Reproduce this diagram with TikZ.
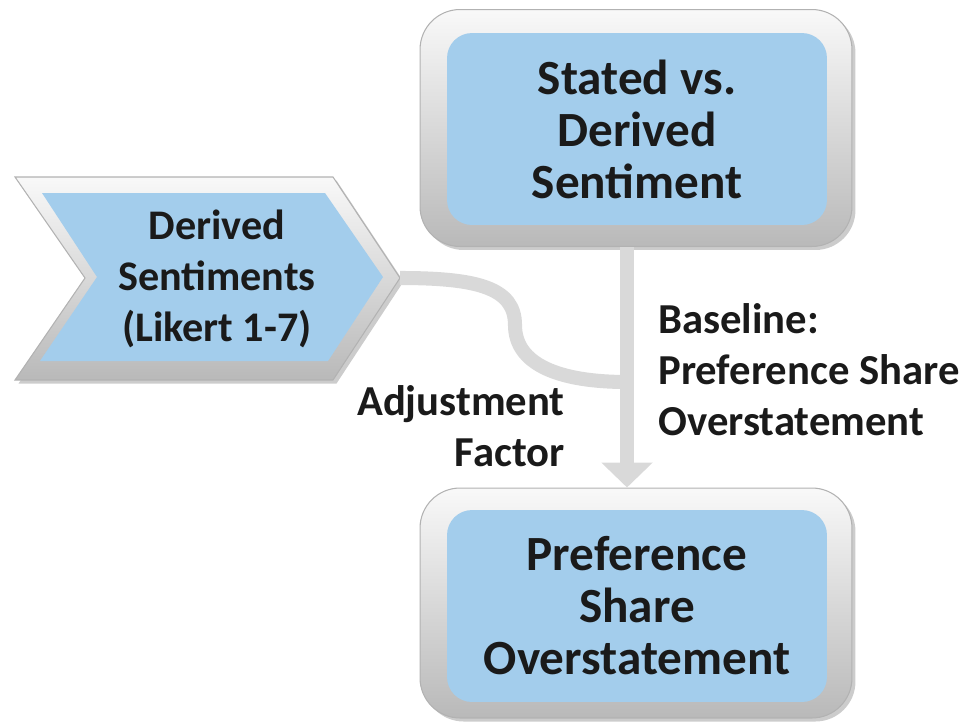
\documentclass[tikz,border=0pt]{standalone}
\usepackage{fontspec}
\setmainfont{Carlito}
\usetikzlibrary{shapes, arrows.meta, positioning, calc, shadows}

\definecolor{paneblue}{RGB}{163,205,236}
\definecolor{inkblack}{RGB}{26,26,26}
\definecolor{linkgray}{RGB}{217,217,217}

\tikzset{
  bevel/.style={draw=gray!60, line width=0.6pt, top color=gray!5, bottom color=gray!55,
    drop shadow={shadow xshift=2pt, shadow yshift=-2pt, opacity=0.4}},
  boxframe/.style={bevel, rounded corners=0.8cm, minimum width=8.64cm, minimum height=4.74cm},
  boxpane/.style={fill=paneblue, rounded corners=0.5cm, minimum width=7.6cm, minimum height=3.84cm,
    align=center, text=inkblack, font=\bfseries\fontsize{28}{29.6}\selectfont},
  sidelabel/.style={inner sep=0pt, text=inkblack, font=\bfseries\fontsize{24.3}{29}\selectfont},
  link/.style={draw=linkgray, line width=8pt},
}

\begin{document}
\begin{tikzpicture}[x=0.02cm, y=-0.02cm]
    \useasboundingbox (0,0) rectangle (964,721);

    % top and bottom boxes
    \node[boxframe] (tbox) at (636,128) {};
    \node[boxpane] (tpane) at (637,129) {Stated vs.\\Derived\\Sentiment};
    \node[boxframe, minimum height=4.6cm] (bbox) at (636,603) {};
    \node[boxpane] (bpane) at (637,606) {Preference\\Share\\Overstatement};

    % chevron
    \path[bevel] (15,177) -- (333,177) -- (400,278) -- (333,380) -- (15,380) -- (85,278) -- cycle;
    \path[fill=paneblue] (42,193) -- (325,193) -- (383,277) -- (328,361) -- (40,361) -- (97,277) -- cycle;
    \node[align=center, text=inkblack, font=\bfseries\fontsize{24}{29}\selectfont] (chev) at (217,279) {Derived\\Sentiments\\(Likert 1-7)};
    \coordinate (chevtip) at (400,278);
    \coordinate (merge) at (627,382);

    % connectors
    \draw[link] (chevtip) .. controls (478,278) and (515,288) .. (515,325)
        .. controls (515,365) and (560,382) .. (merge);
    \draw[link, line width=0.28cm, -{Triangle[width=1cm, length=0.5cm]}]
        ([xshift=-0.18cm]tbox.south) -- ([xshift=-0.18cm]bbox.north);

    % labels
    \node[sidelabel, anchor=north west, align=left] (base) at (658,303) {Baseline:\\Preference Share\\Overstatement};
    \node[sidelabel, anchor=north east, align=right] (adj) at (565,385) {Adjustment\\Factor};
\end{tikzpicture}
\end{document}
